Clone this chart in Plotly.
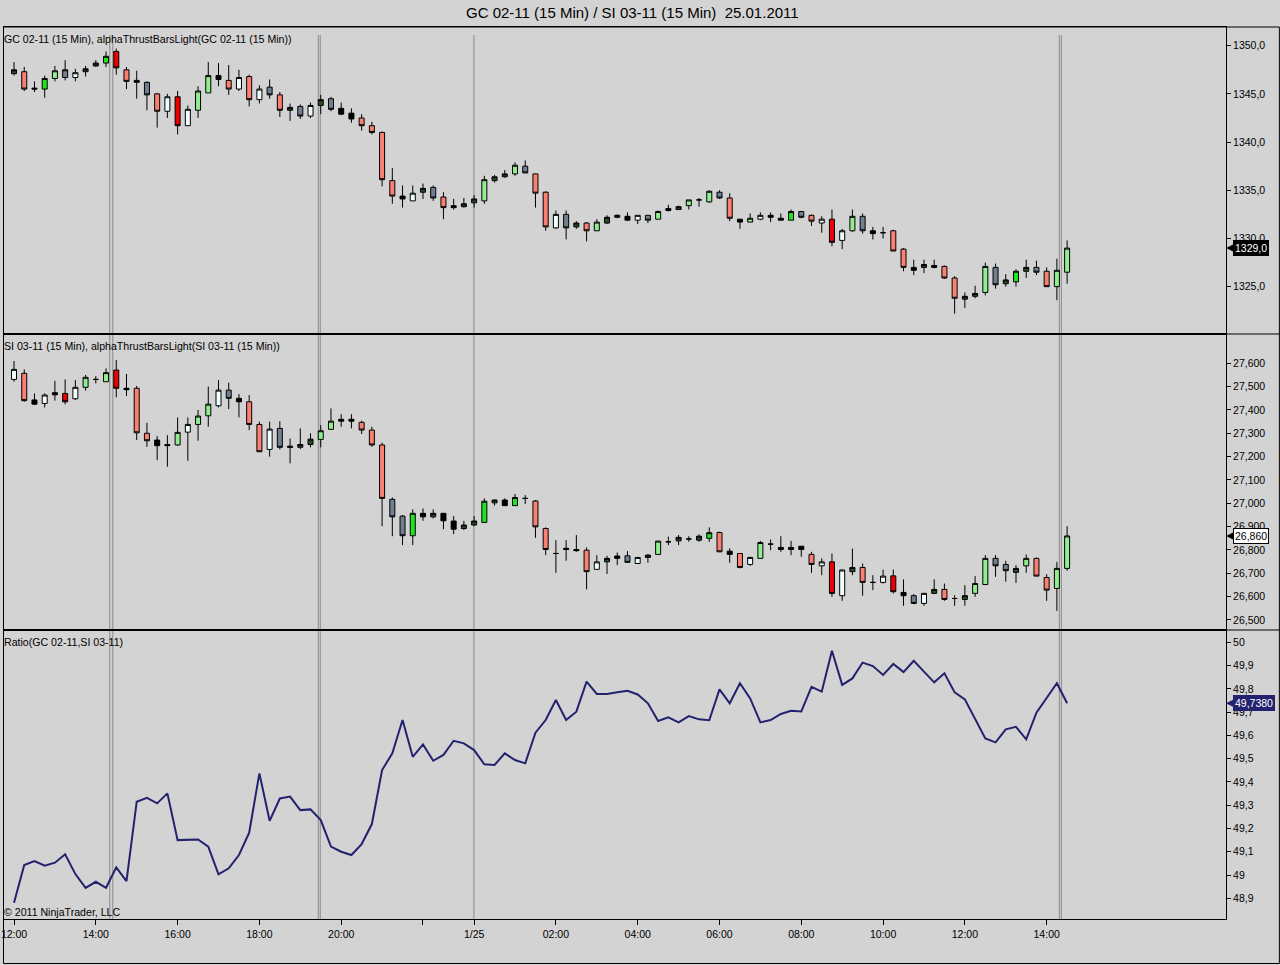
import pandas as pd
import plotly.graph_objects as go
from plotly.subplots import make_subplots

# -------------------------------
# 1. data
# -------------------------------
# 15-min bars, 24.01 12:00 -> 23:00 session, then 25.01 00:00 -> 14:30
bar_times = (
    list(pd.date_range("2011-01-24 12:00", "2011-01-24 23:00", freq="15min").strftime("%m/%d %H:%M"))
    + list(pd.date_range("2011-01-25 00:00", "2011-01-25 14:30", freq="15min").strftime("%m/%d %H:%M"))
)

gc_open = [1347.1, 1347.3, 1345.6, 1345.5, 1346.6, 1346.7, 1346.7, 1347.3, 1347.9, 1348.2,
           1349.4, 1347.5, 1346.4, 1346.2, 1345.0, 1343.2, 1344.7, 1341.7, 1343.3, 1345.1,
           1346.9, 1346.4, 1345.5, 1346.8, 1344.4, 1345.7, 1344.9, 1343.3, 1343.7, 1342.7,
           1343.8, 1344.5, 1343.5, 1343.0, 1342.5, 1341.7, 1341.0, 1336.0, 1334.4, 1333.9,
           1334.8, 1335.3, 1334.3, 1333.4, 1333.3, 1333.7, 1333.9, 1336.0, 1336.4, 1336.7,
           1337.5, 1336.7, 1334.8, 1331.1, 1332.5, 1331.2, 1331.6, 1330.8, 1331.6, 1332.2,
           1332.3, 1331.9, 1332.4, 1332.0, 1332.9, 1333.0, 1333.4, 1334.0, 1333.8, 1334.8,
           1334.2, 1332.0, 1331.7, 1332.0, 1332.4, 1332.1, 1331.9, 1332.8, 1332.4, 1331.6,
           1332.0, 1329.8, 1330.8, 1332.3, 1330.8, 1330.6, 1330.8, 1328.9, 1327.0, 1327.0,
           1327.2, 1327.1, 1325.9, 1323.7, 1324.0, 1324.4, 1327.0, 1325.3, 1325.5, 1326.6,
           1327.0, 1326.6, 1325.0, 1326.5]
gc_high = [1348.3, 1347.8, 1346.3, 1346.9, 1347.9, 1348.5, 1347.6, 1347.9, 1348.5, 1349.4,
           1349.7, 1347.8, 1347.4, 1346.3, 1345.1, 1345.0, 1345.3, 1343.8, 1345.8, 1348.3,
           1348.2, 1348.0, 1347.5, 1347.0, 1345.9, 1346.5, 1345.2, 1344.0, 1343.9, 1344.1,
           1344.9, 1344.7, 1344.1, 1343.5, 1342.9, 1342.1, 1341.1, 1337.3, 1335.5, 1335.5,
           1335.7, 1335.5, 1334.8, 1334.1, 1334.2, 1334.5, 1336.5, 1336.6, 1337.1, 1337.9,
           1338.1, 1336.7, 1334.9, 1332.9, 1332.9, 1331.8, 1331.7, 1332.0, 1332.4, 1332.5,
           1332.7, 1332.4, 1332.4, 1332.9, 1333.5, 1333.4, 1334.0, 1334.2, 1335.0, 1335.0,
           1334.7, 1332.0, 1332.6, 1332.7, 1332.7, 1332.6, 1333.0, 1332.8, 1332.5, 1332.3,
           1333.0, 1331.0, 1333.0, 1332.6, 1331.2, 1331.2, 1330.9, 1329.0, 1327.8, 1327.8,
           1327.8, 1327.2, 1326.1, 1324.4, 1325.1, 1327.5, 1327.4, 1326.3, 1326.8, 1327.8,
           1327.7, 1327.0, 1327.9, 1329.8]
gc_low = [1346.9, 1345.3, 1345.2, 1344.6, 1346.3, 1346.4, 1346.3, 1346.8, 1347.8, 1347.8,
          1347.0, 1345.5, 1344.5, 1343.3, 1341.5, 1342.5, 1340.8, 1341.7, 1342.5, 1345.1,
          1345.8, 1344.9, 1345.3, 1343.7, 1344.0, 1344.5, 1342.6, 1342.2, 1342.4, 1342.5,
          1342.9, 1343.2, 1342.8, 1342.0, 1341.2, 1340.8, 1335.4, 1333.6, 1333.2, 1333.9,
          1334.1, 1333.9, 1332.0, 1333.0, 1333.2, 1333.2, 1333.6, 1335.8, 1336.3, 1336.5,
          1336.8, 1333.2, 1330.8, 1331.0, 1329.9, 1331.0, 1329.7, 1330.8, 1331.5, 1332.1,
          1331.8, 1331.5, 1331.6, 1332.0, 1332.8, 1333.0, 1333.0, 1333.3, 1333.7, 1334.1,
          1331.8, 1331.0, 1331.7, 1331.9, 1331.7, 1331.9, 1331.9, 1332.1, 1331.3, 1330.6,
          1329.2, 1328.9, 1330.7, 1330.5, 1329.9, 1330.0, 1328.7, 1326.6, 1326.2, 1326.4,
          1326.9, 1325.8, 1322.2, 1322.8, 1323.8, 1324.1, 1324.8, 1325.0, 1325.0, 1325.9,
          1326.2, 1325.0, 1323.6, 1325.3]
gc_close = [1347.5, 1345.5, 1345.5, 1346.6, 1347.4, 1347.5, 1347.2, 1347.6, 1348.2, 1348.9,
            1347.7, 1346.3, 1346.2, 1344.9, 1343.2, 1344.7, 1341.7, 1343.4, 1345.3, 1346.9,
            1346.5, 1345.5, 1346.7, 1344.4, 1345.5, 1344.9, 1343.3, 1343.6, 1342.7, 1343.8,
            1344.4, 1343.4, 1342.9, 1342.4, 1341.7, 1341.0, 1336.1, 1334.4, 1334.1, 1334.7,
            1335.2, 1334.2, 1333.2, 1333.2, 1333.6, 1334.1, 1336.1, 1336.4, 1336.7, 1337.6,
            1336.8, 1334.7, 1331.2, 1332.5, 1331.1, 1331.6, 1330.8, 1331.7, 1332.2, 1332.4,
            1331.9, 1332.4, 1331.9, 1332.8, 1333.1, 1333.3, 1334.0, 1334.0, 1334.9, 1334.2,
            1332.1, 1331.7, 1332.1, 1332.4, 1332.2, 1331.9, 1332.8, 1332.2, 1331.8, 1332.0,
            1329.6, 1330.8, 1332.3, 1330.8, 1330.5, 1330.6, 1328.7, 1327.0, 1326.7, 1327.3,
            1327.0, 1325.9, 1323.8, 1324.0, 1324.3, 1327.1, 1325.2, 1325.7, 1326.6, 1327.0,
            1326.5, 1325.0, 1326.7, 1329.0]

si_open = [27.531, 27.557, 27.443, 27.428, 27.474, 27.471, 27.448, 27.497, 27.531, 27.521,
           27.571, 27.493, 27.493, 27.300, 27.271, 27.252, 27.250, 27.305, 27.338, 27.375,
           27.418, 27.485, 27.450, 27.435, 27.338, 27.231, 27.321, 27.245, 27.240, 27.252,
           27.274, 27.317, 27.360, 27.360, 27.347, 27.314, 27.250, 27.017, 26.945, 26.861,
           26.957, 26.942, 26.957, 26.924, 26.892, 26.907, 26.918, 27.002, 27.014, 26.990,
           27.021, 27.010, 26.892, 26.785, 26.807, 26.802, 26.799, 26.717, 26.749, 26.764,
           26.775, 26.742, 26.768, 26.781, 26.835, 26.839, 26.847, 26.842, 26.850, 26.875,
           26.795, 26.785, 26.738, 26.764, 26.825, 26.811, 26.811, 26.816, 26.781, 26.732,
           26.749, 26.604, 26.707, 26.725, 26.661, 26.661, 26.689, 26.618, 26.604, 26.571,
           26.614, 26.631, 26.592, 26.588, 26.614, 26.652, 26.764, 26.738, 26.704, 26.732,
           26.764, 26.682, 26.635, 26.721]
si_high = [27.610, 27.574, 27.471, 27.471, 27.525, 27.531, 27.528, 27.550, 27.545, 27.578,
           27.614, 27.554, 27.503, 27.345, 27.288, 27.292, 27.368, 27.368, 27.400, 27.500,
           27.528, 27.517, 27.468, 27.464, 27.350, 27.350, 27.352, 27.278, 27.321, 27.300,
           27.335, 27.407, 27.382, 27.382, 27.354, 27.328, 27.260, 27.025, 26.950, 26.974,
           26.978, 26.974, 26.957, 26.945, 26.925, 26.945, 27.021, 27.017, 27.021, 27.040,
           27.035, 27.014, 26.897, 26.842, 26.842, 26.864, 26.811, 26.778, 26.775, 26.789,
           26.795, 26.768, 26.782, 26.839, 26.857, 26.864, 26.859, 26.867, 26.897, 26.878,
           26.807, 26.785, 26.771, 26.839, 26.845, 26.859, 26.839, 26.816, 26.792, 26.764,
           26.785, 26.716, 26.806, 26.742, 26.692, 26.716, 26.716, 26.674, 26.611, 26.616,
           26.674, 26.656, 26.606, 26.649, 26.688, 26.778, 26.778, 26.754, 26.735, 26.781,
           26.768, 26.696, 26.749, 26.902]
si_low = [27.521, 27.435, 27.421, 27.411, 27.440, 27.424, 27.443, 27.483, 27.514, 27.521,
          27.454, 27.460, 27.271, 27.242, 27.185, 27.157, 27.247, 27.182, 27.268, 27.328,
          27.411, 27.404, 27.368, 27.314, 27.221, 27.200, 27.231, 27.171, 27.232, 27.240,
          27.240, 27.314, 27.328, 27.321, 27.297, 27.242, 26.902, 26.859, 26.821, 26.821,
          26.925, 26.935, 26.889, 26.868, 26.885, 26.902, 26.917, 26.990, 26.990, 26.990,
          26.997, 26.852, 26.778, 26.702, 26.754, 26.792, 26.631, 26.717, 26.697, 26.735,
          26.745, 26.742, 26.745, 26.778, 26.821, 26.821, 26.835, 26.835, 26.835, 26.792,
          26.745, 26.721, 26.732, 26.764, 26.799, 26.792, 26.778, 26.771, 26.702, 26.692,
          26.599, 26.582, 26.692, 26.604, 26.628, 26.656, 26.614, 26.561, 26.568, 26.561,
          26.611, 26.582, 26.561, 26.561, 26.599, 26.649, 26.685, 26.664, 26.659, 26.702,
          26.688, 26.582, 26.539, 26.711]
si_close = [27.574, 27.440, 27.425, 27.464, 27.465, 27.435, 27.497, 27.540, 27.531, 27.560,
            27.493, 27.487, 27.302, 27.268, 27.247, 27.247, 27.304, 27.338, 27.374, 27.425,
            27.485, 27.450, 27.435, 27.338, 27.221, 27.318, 27.240, 27.240, 27.252, 27.275,
            27.311, 27.352, 27.352, 27.352, 27.314, 27.250, 27.021, 26.942, 26.861, 26.957,
            26.942, 26.957, 26.925, 26.889, 26.907, 26.924, 27.009, 27.014, 26.990, 27.025,
            27.021, 26.899, 26.802, 26.785, 26.802, 26.797, 26.707, 26.749, 26.764, 26.774,
            26.747, 26.768, 26.778, 26.838, 26.835, 26.854, 26.847, 26.859, 26.874, 26.792,
            26.781, 26.725, 26.768, 26.832, 26.825, 26.802, 26.802, 26.802, 26.738, 26.749,
            26.614, 26.714, 26.725, 26.661, 26.661, 26.688, 26.621, 26.604, 26.571, 26.614,
            26.631, 26.588, 26.592, 26.604, 26.656, 26.764, 26.732, 26.711, 26.721, 26.764,
            26.688, 26.628, 26.721, 26.860]

ratio = [48.881, 49.043, 49.060, 49.040, 49.053, 49.089, 49.004, 48.945, 48.971, 48.945,
         49.033, 48.974, 49.315, 49.332, 49.308, 49.351, 49.150, 49.150, 49.153, 49.122,
         49.003, 49.029, 49.086, 49.182, 49.437, 49.233, 49.329, 49.337, 49.279, 49.282,
         49.236, 49.122, 49.100, 49.086, 49.133, 49.219, 49.451, 49.523, 49.666, 49.508,
         49.561, 49.491, 49.516, 49.577, 49.566, 49.537, 49.476, 49.473, 49.523, 49.494,
         49.480, 49.612, 49.666, 49.752, 49.666, 49.702, 49.831, 49.778, 49.778, 49.785,
         49.792, 49.776, 49.738, 49.662, 49.678, 49.656, 49.683, 49.669, 49.665, 49.798,
         49.738, 49.824, 49.759, 49.656, 49.666, 49.692, 49.706, 49.703, 49.809, 49.788,
         49.964, 49.817, 49.845, 49.913, 49.898, 49.860, 49.907, 49.872, 49.921, 49.874,
         49.828, 49.867, 49.785, 49.755, 49.670, 49.587, 49.570, 49.626, 49.637, 49.583,
         49.698, 49.759, 49.824, 49.738]

# alphaThrustBarsLight colour per bar (one letter per bar, see palette)
gc_codes = ("DSKLGYWDDL" "RSKYSWRWGG" "KSWSWYSDYW" "DYKKSSSSKW" "DYSKDDGDDG"
            "YSSWYDSGDD" "KWYGDDGKGY" "SKGWKKLYSW" "RWGYKKSSKD" "KSSDDGYDLD" "YSGG")
si_codes = ("WSKWKRWGKG" "RKSSKKGWGG" "WYKSSWYKDD" "GGKKSSSYYL" "KDKKDDLDKL"
            "KSSKKKSWDK" "YWDGKDKDLS" "KSWGKKKKSW" "RWDSKWRKYW" "DSKDGGYYDG" "SSGG")
palette = {"D": "#285028", "S": "#FA8072", "K": "#000000", "L": "#1EE61E",
           "G": "#90EE90", "Y": "#708090", "W": "#F0FFFF", "R": "#EE0000"}

# vertical marker lines (bar-index units)
marker_slots = [9.37, 9.66, 29.76, 29.95, 44.98, 102.24, 102.44]

tick_times = ["01/24 12:00", "01/24 14:00", "01/24 16:00", "01/24 18:00", "01/24 20:00",
              "01/24 22:00", "01/25 00:00", "01/25 02:00", "01/25 04:00", "01/25 06:00",
              "01/25 08:00", "01/25 10:00", "01/25 12:00", "01/25 14:00"]
tick_text = ["12:00", "14:00", "16:00", "18:00", "20:00", "", "1/25", "02:00", "04:00",
             "06:00", "08:00", "10:00", "12:00", "14:00"]
gc_ticks = [1325, 1330, 1335, 1340, 1345, 1350]
si_ticks = [26.5, 26.6, 26.7, 26.8, 26.9, 27.0, 27.1, 27.2, 27.3, 27.4, 27.5, 27.6]
ratio_ticks = [48.9, 49.0, 49.1, 49.2, 49.3, 49.4, 49.5, 49.6, 49.7, 49.8, 49.9, 50.0]

# -------------------------------
# 2. figure
# -------------------------------
W, H = 1280, 965
ML, MR, MT, MB = 1, 54, 27, 46
plot_w, plot_h = W - ML - MR, H - MT - MB

fig = make_subplots(rows=3, cols=1, shared_xaxes=True, vertical_spacing=0,
                    row_heights=[307, 296, 289])


def add_candles(o, h, l, c, codes, row):
    for code, colour in palette.items():
        idx = [i for i, k in enumerate(codes) if k == code]
        if not idx:
            continue
        style = dict(fillcolor=colour, line=dict(color="black", width=1))
        fig.add_trace(go.Candlestick(
            x=[bar_times[i] for i in idx],
            open=[o[i] for i in idx], high=[h[i] for i in idx],
            low=[l[i] for i in idx], close=[c[i] for i in idx],
            increasing=style, decreasing=style, whiskerwidth=0,
            showlegend=False, hoverinfo="skip"), row=row, col=1)


add_candles(gc_open, gc_high, gc_low, gc_close, gc_codes, 1)
add_candles(si_open, si_high, si_low, si_close, si_codes, 2)

navy = "#22226E"
fig.add_trace(go.Scatter(x=bar_times, y=ratio, mode="lines",
                         line=dict(color=navy, width=2),
                         showlegend=False, hoverinfo="skip"), row=3, col=1)

line_kw = dict(showline=True, linecolor="black", linewidth=1, mirror=True,
               showgrid=False, zeroline=False, fixedrange=True)

# slot k sits at pixel 11 + 10.25k; plot spans pixels 1..1226
fig.update_xaxes(type="category", categoryorder="array", categoryarray=bar_times,
                 range=[-0.98, 118.54], rangeslider_visible=False,
                 tickvals=tick_times, ticktext=tick_text, **line_kw)
fig.update_xaxes(ticks="", showticklabels=False, row=1, col=1)
fig.update_xaxes(ticks="", showticklabels=False, row=2, col=1)
fig.update_xaxes(ticks="outside", ticklen=5, tickcolor="black", showticklabels=True,
                 tickfont=dict(size=10.5), row=3, col=1)

fig.update_yaxes(side="right", ticks="outside", ticklen=4, tickcolor="black",
                 tickfont=dict(size=10.5), **line_kw)
fig.update_yaxes(range=[1320.09, 1351.94], tickvals=gc_ticks, tickformat=".1f", row=1, col=1)
fig.update_yaxes(range=[26.457, 27.7256], tickvals=si_ticks, tickformat=".3f", row=2, col=1)
fig.update_yaxes(range=[48.811, 50.053], tickvals=ratio_ticks, tickformat=".1~f", row=3, col=1)

# marker lines through all three panels
for s in marker_slots:
    fig.add_shape(type="line", xref="x", yref="paper", x0=s, x1=s, y0=0,
                  y1=(MT + plot_h - 35) / plot_h, layer="below",
                  line=dict(color="#8A8A8A", width=1))


def px(xp):
    return (xp - ML) / plot_w


def py(yp):
    return (MT + plot_h - yp) / plot_h


# outer frame + separators across the price-scale column
frame = dict(color="black", width=1)
fig.add_shape(type="rect", xref="paper", yref="paper", x0=px(0.5), x1=px(1279.5),
              y0=py(963.5), y1=py(27), line=frame)
for yp in (334, 630):
    fig.add_shape(type="line", xref="paper", yref="paper", x0=1, x1=px(1279.5),
                  y0=py(yp), y1=py(yp), line=frame)

labels = ["GC 02-11 (15 Min), alphaThrustBarsLight(GC 02-11 (15 Min))",
          "SI 03-11 (15 Min), alphaThrustBarsLight(SI 03-11 (15 Min))",
          "Ratio(GC 02-11,SI 03-11)"]
for i, txt in enumerate(labels):
    yref = "y domain" if i == 0 else f"y{i + 1} domain"
    fig.add_annotation(text=txt, xref="paper", x=0, xanchor="left", xshift=-2,
                       yref=yref, y=1, yanchor="top", yshift=-4, showarrow=False,
                       font=dict(size=10.6))
fig.add_annotation(text="© 2011 NinjaTrader, LLC", xref="paper", x=0, xanchor="left",
                   xshift=-2, yref="y3 domain", y=0, yanchor="bottom", yshift=-1,
                   showarrow=False, font=dict(size=10.6))

# last-value tags on the price scale
tags = [
    ("y", gc_close[-1], f"{gc_close[-1]:.1f}".replace(".", ","), "black", "white", "black"),
    ("y2", si_close[-1], f"{si_close[-1]:.3f}".replace(".", ","), "white", "black", "black"),
    ("y3", ratio[-1], f"{ratio[-1]:.4f}".replace(".", ","), navy, "white", navy),
]
for yref, val, txt, bg, fg, border in tags:
    fig.add_annotation(text=txt, xref="paper", x=1, yref=yref, y=val,
                       xanchor="left", yanchor="middle", showarrow=True,
                       ax=7, ay=0, arrowhead=2, arrowsize=1, arrowwidth=1.5,
                       arrowcolor=border, standoff=0,
                       bgcolor=bg, bordercolor=border, borderwidth=1, borderpad=1,
                       font=dict(size=10.5, color=fg))

fig.update_layout(
    width=W, height=H,
    margin=dict(l=ML, r=MR, t=MT, b=MB),
    paper_bgcolor="#D3D3D3", plot_bgcolor="#D3D3D3",
    separators=",.",
    showlegend=False,
    font=dict(family="Liberation Sans, Arial, sans-serif", size=10, color="black"),
    title=dict(text="GC 02-11 (15 Min) / SI 03-11 (15 Min)  25.01.2011",
               xref="container", x=0.494, xanchor="center",
               yref="container", y=1 - 13 / H, yanchor="middle",
               font=dict(size=15, color="black")),
)

fig.write_html("out.html", config={"displayModeBar": False},
               post_script="document.body.style.margin='0';document.body.style.overflow='hidden';")
